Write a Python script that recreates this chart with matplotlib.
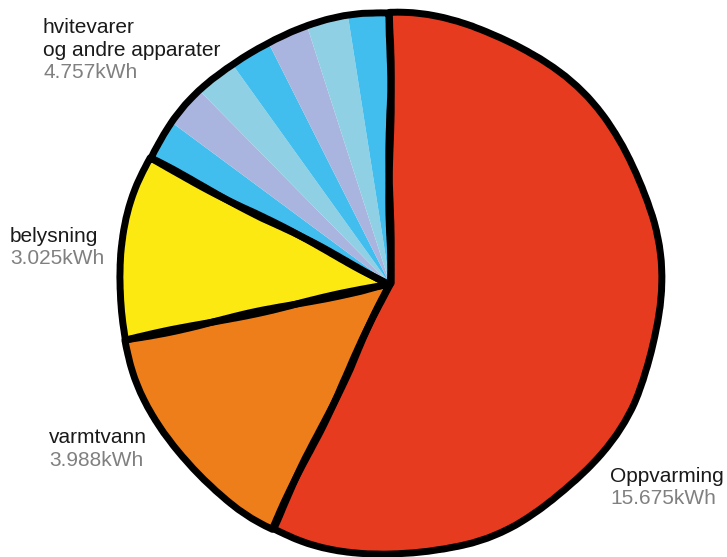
import matplotlib
matplotlib.use("Agg")
import matplotlib.pyplot as plt

# Energy use per category (kWh)
categories = ["Oppvarming", "varmtvann", "belysning", "hvitevarer\nog andre apparater"]
values = [15.675, 3.988, 3.025, 4.757]
value_labels = ["15.675kWh", "3.988kWh", "3.025kWh", "4.757kWh"]
main_colors = ["#E63B1F", "#EE7E1A", "#FCE912"]
stripe_colors = ["#42BEEE", "#A9B5DF", "#8FD0E4", "#42BEEE", "#A9B5DF", "#8FD0E4", "#42BEEE"]

W, H = 727, 557
fig = plt.figure(figsize=(W / 100, H / 100), dpi=100)
ax = fig.add_axes([0, 0, 1, 1])

center = (390, H - 284)
radius = 271

# Fill: the appliance slice is painted as a fan of coloured stripes
n_stripes = len(stripe_colors)
fill_values = values[:3] + [values[3] / n_stripes] * n_stripes
fill_colors = main_colors + stripe_colors
ax.pie(fill_values, colors=fill_colors, startangle=90, counterclock=False,
       center=center, radius=radius, frame=True,
       wedgeprops=dict(linewidth=0, edgecolor="none"))

# Hand-drawn black outline around the four categories
outline, _ = ax.pie(values, startangle=90, counterclock=False,
                    center=center, radius=radius, frame=True,
                    wedgeprops=dict(fill=False, edgecolor="black", linewidth=5))
for w in outline:
    w.set_joinstyle("round")
    w.set_capstyle("round")
    w.set_sketch_params(scale=1.2, length=220, randomness=3)

ax.set_xlim(0, W)
ax.set_ylim(0, H)
ax.set_aspect("equal")
ax.axis("off")

font = ["Liberation Sans", "DejaVu Sans"]
fs = 15
step = 22.5
# label anchors: (x, baseline of first line) in pixels from the top-left
label_pos = [(610, 482), (49, 443), (10, 242), (43, 33)]
for name, vl, (x, yb) in zip(categories, value_labels, label_pos):
    lines = name.split("\n")
    for i, line in enumerate(lines):
        ax.text(x, H - yb - step * i, line, fontsize=fs, family=font,
                color="#1a1a1a", ha="left", va="baseline")
    ax.text(x, H - yb - step * len(lines), vl, fontsize=fs, family=font,
            color="#808080", ha="left", va="baseline")

fig.savefig("out.png", dpi=100)
